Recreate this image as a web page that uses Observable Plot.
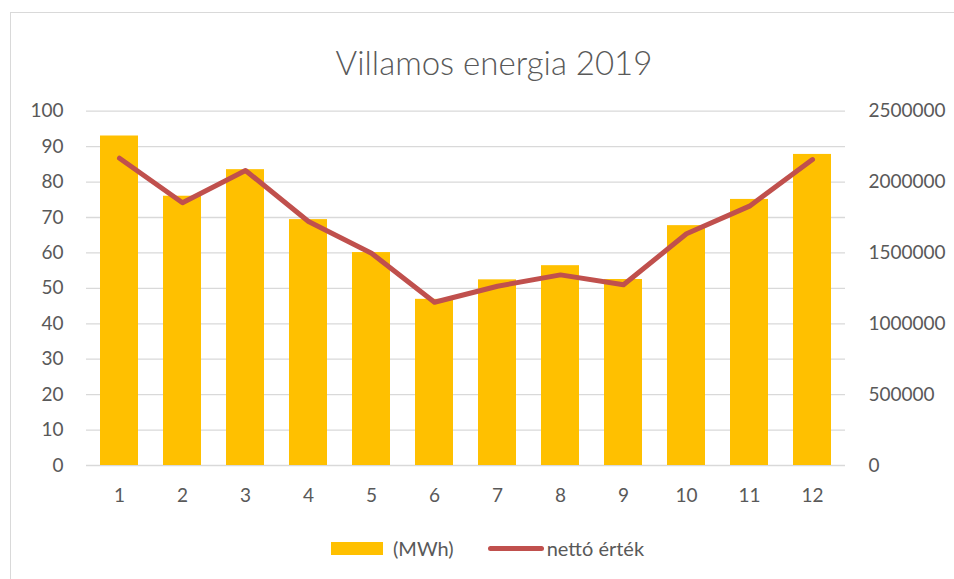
<!DOCTYPE html>
<html>
<head>
<meta charset="utf-8">
<script src="https://cdn.jsdelivr.net/npm/d3@7"></script>
<script src="https://cdn.jsdelivr.net/npm/@observablehq/plot@0.6"></script>
<style>
  html, body { margin: 0; padding: 0; background: #fff; }
  #wrap { position: relative; width: 954px; height: 579px; overflow: hidden; font-family: Lato, "Open Sans", sans-serif; color: #595959; }
  #border { position: absolute; left: 10px; top: 12px; width: 960px; height: 600px; border: 1.5px solid #d9d9d9; box-sizing: border-box; }
  #title { position: absolute; left: 0; width: 988px; top: 40px; text-align: center; font-size: 33px; line-height: 44px; font-weight: 300; color: #595959; }
  #chart { position: absolute; left: 0; top: 0; }
  #legend { position: absolute; top: 536px; left: 331px; font-size: 20px; color: #595959; display: flex; align-items: center; }
  .sw-bar { width: 52px; height: 13px; background: #FFC000; display: inline-block; margin-right: 10px; }
  .sw-line { width: 56px; height: 5px; border-radius: 3px; background: #C0504D; display: inline-block; margin-left: 34px; margin-right: 3px; }
</style>
</head>
<body>
<div id="wrap">
  <div id="border"></div>
  <div id="title">Villamos energia 2019</div>
  <div id="chart"></div>
  <div id="legend"><span class="sw-bar"></span><span>(MWh)</span><span class="sw-line"></span><span>nettó érték</span></div>
</div>
<script>
const months = [1,2,3,4,5,6,7,8,9,10,11,12];
const mwh = [93, 76, 83.5, 69.4, 60.1, 46.9, 52.4, 56.4, 52.5, 67.7, 75.1, 87.8];
const netto = [2168000, 1854000, 2082000, 1722000, 1498000, 1152000, 1265000, 1345000, 1275000, 1635000, 1830000, 2159000];
const leftTicks = [0,10,20,30,40,50,60,70,80,90,100];
const rightTicks = [0,500000,1000000,1500000,2000000,2500000];
const rightMax = 2500000, leftMax = 100;
const ratio = rightMax / leftMax;

const bars = months.map((m,i) => ({month: m, value: mwh[i]}));
const line = months.map((m,i) => ({month: m, value: netto[i]}));

const chart = Plot.plot({
  width: 954,
  height: 579,
  marginLeft: 86,
  marginRight: 109,
  marginTop: 110.7,
  marginBottom: 114,
  style: {fontFamily: "Lato, 'Open Sans', sans-serif", fontSize: "19px", color: "#595959", background: "transparent"},
  x: {type: "band", domain: months, paddingInner: 0.4, paddingOuter: 0.2},
  y: {domain: [0, leftMax]},
  marks: [
    Plot.ruleY(leftTicks, {stroke: "#d9d9d9", strokeWidth: 1.3}),
    Plot.barY(bars, {x: "month", y: "value", fill: "#FFC000"}),
    Plot.lineY(line, {x: "month", y: d => d.value / ratio, stroke: "#C0504D", strokeWidth: 5, strokeLinecap: "round", strokeLinejoin: "round"}),
    Plot.axisY({ticks: leftTicks, tickSize: 0, tickPadding: 23, label: null, fill: "#595959"}),
    Plot.axisY({anchor: "right", ticks: rightTicks.map(t => t / ratio), tickFormat: d => String(Math.round(d * ratio)), tickSize: 0, tickPadding: 23, label: null, fill: "#595959"}),
    Plot.axisX({tickSize: 0, tickPadding: 23, label: null, fill: "#595959"})
  ]
});
document.getElementById("chart").appendChild(chart);
</script>
</body>
</html>
